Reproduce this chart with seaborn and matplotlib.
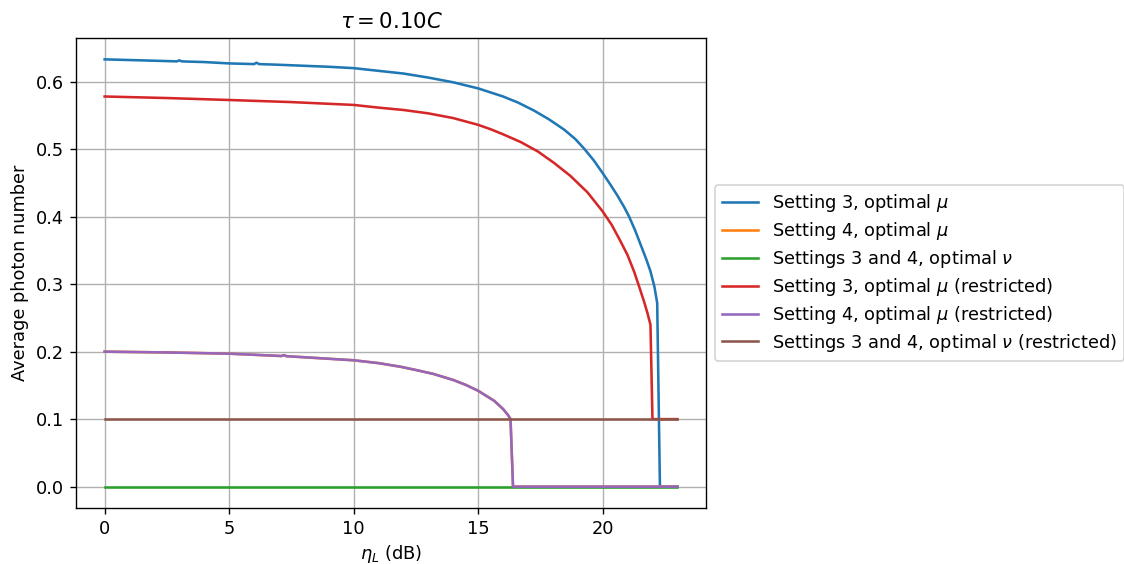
import numpy as np
import pandas as pd
import matplotlib
matplotlib.use("Agg")
import matplotlib.pyplot as plt
import seaborn as sns

# Average photon number versus channel loss eta_L (dB), tau = 0.10 C
labels = [
    r"Setting 3, optimal $\mu$",
    r"Setting 4, optimal $\mu$",
    r"Settings 3 and 4, optimal $\nu$",
    r"Setting 3, optimal $\mu$ (restricted)",
    r"Setting 4, optimal $\mu$ (restricted)",
    r"Settings 3 and 4, optimal $\nu$ (restricted)",
]
colors = ["#1f77b4", "#ff7f0e", "#2ca02c", "#d62728", "#9467bd", "#8c564b"]

# Setting 3, optimal mu
s3_x = [0, 1, 2, 2.9, 3.0, 3.1, 4, 5, 6.0, 6.1, 6.2, 7, 8, 9, 10, 11, 12, 13, 14, 15,
        15.5, 16, 16.6, 17.25, 17.85, 18.45, 18.9, 19.25, 19.65, 20.0, 20.3, 20.58,
        20.85, 21.05, 21.3, 21.52, 21.75, 21.92, 22.08, 22.19, 22.3, 23.0]
s3_mu = [0.633, 0.632, 0.631, 0.630, 0.6315, 0.630, 0.629, 0.627, 0.626, 0.628, 0.626,
         0.625, 0.6235, 0.622, 0.620, 0.616, 0.612, 0.606, 0.599, 0.590,
         0.584, 0.578, 0.569, 0.557, 0.544, 0.529, 0.515, 0.501, 0.483, 0.4645, 0.448,
         0.432, 0.415, 0.401, 0.380, 0.359, 0.337, 0.319, 0.296, 0.272, 0.0, 0.0]

# Setting 4, optimal mu (and its restricted variant)
s4_x = [0, 2.5, 5, 7.1, 7.2, 7.3, 10, 11, 11.9, 12.5, 13.2, 14, 14.5, 15, 15.65, 16.0,
        16.2, 16.3, 16.4, 23.0]
s4_mu = [0.200, 0.1988, 0.197, 0.1935, 0.1948, 0.1933, 0.1872, 0.183, 0.1775, 0.1728,
         0.167, 0.158, 0.1508, 0.142, 0.127, 0.115, 0.106, 0.100, 0.0, 0.0]

# Settings 3 and 4, optimal nu
nu_x = [0, 23.0]
nu_opt = [0.0, 0.0]

# Setting 3, optimal mu (restricted)
s3r_x = [0, 2.5, 5, 7.5, 10, 11, 12, 13, 14, 15, 15.5, 16, 16.71, 17.4, 18.05, 18.7,
         19.39, 20.0, 20.36, 20.72, 21.0, 21.26, 21.46, 21.66, 21.8, 21.92, 22.0, 23.0]
s3r_mu = [0.578, 0.5757, 0.5728, 0.5697, 0.5655, 0.5615, 0.558, 0.553, 0.546, 0.536,
          0.5295, 0.522, 0.5105, 0.4965, 0.4795, 0.4605, 0.436, 0.4077, 0.388, 0.3633,
          0.343, 0.3188, 0.297, 0.2744, 0.257, 0.2398, 0.100, 0.100]

# Settings 3 and 4, optimal nu (restricted)
nur_x = [0, 23.0]
nu_restricted = [0.1, 0.1]

series = [
    (s3_x, s3_mu),
    (s4_x, s4_mu),
    (nu_x, nu_opt),
    (s3r_x, s3r_mu),
    (s4_x, s4_mu),
    (nur_x, nu_restricted),
]

frames = []
for lab, (xs, ys) in zip(labels, series):
    frames.append(pd.DataFrame({"eta": xs, "photons": ys, "series": lab}))
df = pd.concat(frames, ignore_index=True)

plt.rcParams["font.size"] = 10.4

dpi = 123
fig = plt.figure(figsize=(1124 / dpi, 564 / dpi), dpi=dpi)
ax = fig.add_axes([76 / 1124, 56 / 564, (706 - 76) / 1124, (508 - 38) / 564])

sns.lineplot(data=df, x="eta", y="photons", hue="series", hue_order=labels,
             palette=colors, estimator=None, sort=True, linewidth=1.5, ax=ax)

ax.grid(True, color="#b0b0b0", linewidth=0.8)
ax.set_axisbelow(True)
ax.set_xticks([0, 5, 10, 15, 20])
ax.set_title(r"$\tau = 0.10C$", fontsize="large")
ax.set_xlabel(r"$\eta_L$ (dB)", labelpad=3)
ax.set_ylabel("Average photon number")

handles, labs = ax.get_legend_handles_labels()
ax.legend(handles, labs, loc="center left", bbox_to_anchor=(1, 0.5),
          labelspacing=0.33)

fig.savefig("out.png", dpi=dpi)
